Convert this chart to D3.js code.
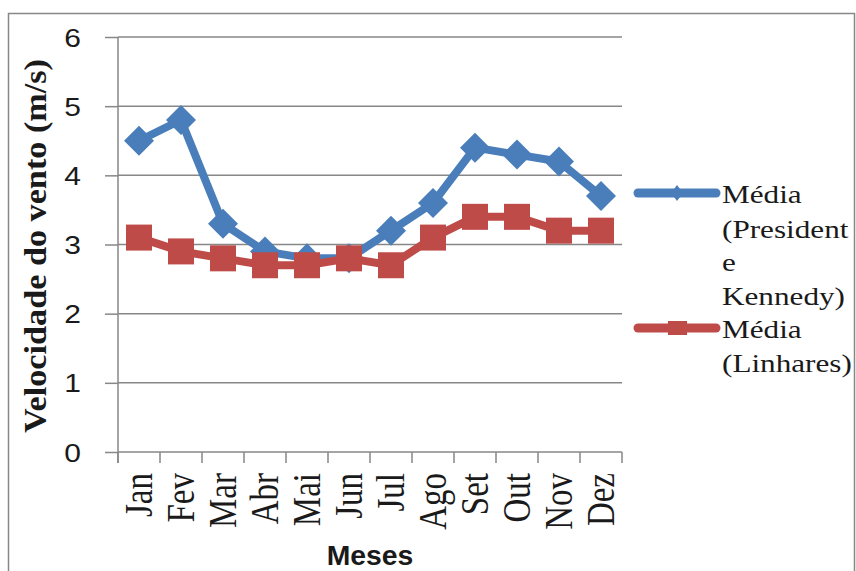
<!DOCTYPE html>
<html>
<head>
<meta charset="utf-8">
<script src="https://cdn.jsdelivr.net/npm/d3@7"></script>
<style>
  html, body { margin: 0; padding: 0; background: #fff; }
  svg { display: block; }
</style>
</head>
<body>
<svg id="chart" width="856" height="571"></svg>
<script>
// Monthly mean wind speed at two stations
const months = ["Jan", "Fev", "Mar", "Abr", "Mai", "Jun", "Jul", "Ago", "Set", "Out", "Nov", "Dez"];
const kennedy = [4.5, 4.8, 3.3, 2.9, 2.8, 2.8, 3.2, 3.6, 4.4, 4.3, 4.2, 3.7];
const linhares = [3.1, 2.9, 2.8, 2.7, 2.7, 2.8, 2.7, 3.1, 3.4, 3.4, 3.2, 3.2];
const yTicks = [0, 1, 2, 3, 4, 5, 6];
const legendKennedy = ["Média", "(President", "e", "Kennedy)"];
const legendLinhares = ["Média", "(Linhares)"];

const blue = "#4A7EBB";
const red = "#BE4B48";
const gridColor = "#878787";
const sx = 1.2; // horizontal widening applied to text

const svg = d3.select("#chart");
svg.append("rect").attr("width", 856).attr("height", 571).attr("fill", "#fff");

// outer frame
svg.append("rect")
  .attr("x", 8.5).attr("y", 13.5).attr("width", 846).attr("height", 570)
  .attr("fill", "none").attr("stroke", gridColor).attr("stroke-width", 1.5);

const plot = { left: 118, right: 622, top: 37, bottom: 452 };

const x = d3.scaleBand().domain(months).range([plot.left, plot.right]);
const y = d3.scaleLinear().domain([0, 6]).range([plot.bottom, plot.top]);
const cx = m => x(m) + x.bandwidth() / 2;

// horizontal gridlines
svg.append("g").selectAll("line").data(yTicks).join("line")
  .attr("x1", plot.left).attr("x2", plot.right)
  .attr("y1", d => y(d)).attr("y2", d => y(d))
  .attr("stroke", gridColor).attr("stroke-width", 1.5);

// y axis
const yAxis = svg.append("g")
  .attr("transform", `translate(${plot.left},0)`)
  .call(d3.axisLeft(y).tickValues(yTicks).tickFormat(d3.format("d")).tickSize(13).tickSizeOuter(0));
yAxis.select(".domain").attr("stroke", gridColor).attr("stroke-width", 1.5)
  .attr("d", `M0,${plot.top}V${plot.bottom + 11}`);
yAxis.selectAll(".tick line").attr("stroke", gridColor).attr("stroke-width", 1.5);
yAxis.selectAll(".tick text")
  .attr("x", null).attr("dy", null)
  .attr("transform", `translate(-37,9) scale(${sx},1)`)
  .attr("text-anchor", "end")
  .attr("font-family", "Liberation Sans, Arial, sans-serif")
  .attr("font-size", 25).attr("fill", "#1a1a1a");

// x axis: boundary ticks
const bounds = months.map(m => x(m)).concat([plot.right]);
svg.append("g").selectAll("line").data(bounds).join("line")
  .attr("x1", d => d).attr("x2", d => d)
  .attr("y1", plot.bottom).attr("y2", plot.bottom + 11)
  .attr("stroke", gridColor).attr("stroke-width", 1.5);

// x axis labels (rotated)
const xAxis = svg.append("g")
  .attr("transform", `translate(0,${plot.bottom})`)
  .call(d3.axisBottom(x).tickSize(0).tickSizeOuter(0));
xAxis.select(".domain").remove();
xAxis.selectAll(".tick text")
  .attr("x", null).attr("y", null)
  .attr("transform", `translate(0,21) scale(${sx},1) rotate(-90)`)
  .attr("dy", "0.33em")
  .attr("text-anchor", "end")
  .attr("font-family", "Liberation Serif, Times New Roman, serif")
  .attr("font-size", 33).attr("fill", "#1a1a1a");

// axis titles
svg.append("text")
  .attr("transform", `translate(46,246) rotate(-90)`)
  .attr("text-anchor", "middle")
  .attr("textLength", 374).attr("lengthAdjust", "spacingAndGlyphs")
  .attr("font-family", "Liberation Serif, Times New Roman, serif")
  .attr("font-weight", "bold").attr("font-size", 32).attr("fill", "#1a1a1a")
  .text("Velocidade do vento (m/s)");

svg.append("text")
  .attr("transform", `translate(370,565) scale(1.05,1)`)
  .attr("text-anchor", "middle")
  .attr("font-family", "Liberation Sans, Arial, sans-serif")
  .attr("font-weight", "bold").attr("font-size", 27).attr("fill", "#1a1a1a")
  .text("Meses");

// series
const line = d3.line().x((d, i) => cx(months[i])).y(d => y(d));

svg.append("path").datum(kennedy)
  .attr("d", line).attr("fill", "none").attr("stroke", blue)
  .attr("stroke-width", 8).attr("stroke-linejoin", "round");
svg.append("g").selectAll("path").data(kennedy).join("path")
  .attr("transform", (d, i) => `translate(${cx(months[i])},${y(d)})`)
  .attr("d", "M0,-15L15,0L0,15L-15,0Z").attr("fill", blue);

svg.append("path").datum(linhares)
  .attr("d", line).attr("fill", "none").attr("stroke", red)
  .attr("stroke-width", 8).attr("stroke-linejoin", "round");
svg.append("g").selectAll("rect").data(linhares).join("rect")
  .attr("x", (d, i) => cx(months[i]) - 13).attr("y", d => y(d) - 13)
  .attr("width", 26).attr("height", 26).attr("fill", red);

// legend
function legendEntry(color, lineY, lines, baselines, marker) {
  const g = svg.append("g");
  g.append("line").attr("x1", 638).attr("x2", 716).attr("y1", lineY).attr("y2", lineY)
    .attr("stroke", color).attr("stroke-width", 9).attr("stroke-linecap", "round");
  if (marker === "diamond") {
    g.append("path").attr("transform", `translate(677,${lineY})`)
      .attr("d", "M0,-8L6,0L0,8L-6,0Z").attr("fill", color);
  } else {
    g.append("rect").attr("x", 668).attr("y", lineY - 7).attr("width", 19).attr("height", 14)
      .attr("fill", color);
  }
  g.selectAll("text").data(lines).join("text")
    .attr("transform", (d, i) => `translate(722,${baselines[i]}) scale(${sx},1)`)
    .attr("font-family", "Liberation Serif, Times New Roman, serif")
    .attr("font-size", 26).attr("fill", "#1a1a1a")
    .text(d => d);
}
legendEntry(blue, 193, legendKennedy, [203, 238, 271, 305], "diamond");
legendEntry(red, 328, legendLinhares, [338, 372], "square");
</script>
</body>
</html>
